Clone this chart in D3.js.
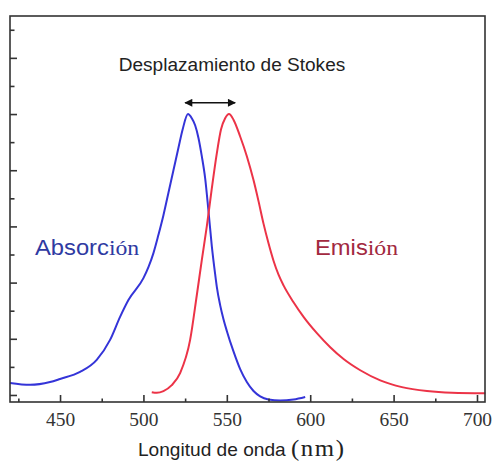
<!DOCTYPE html>
<html>
<head>
<meta charset="utf-8">
<script src="https://cdn.jsdelivr.net/npm/d3@7"></script>
<style>
  body { margin: 0; background: #fff; }
  svg { display: block; }
</style>
</head>
<body>
<div id="chart"></div>
<script>
// data (wavelength in nm, normalised intensity)
var absWl  = [420, 432, 444, 450, 462, 472, 480, 486, 491, 500, 503, 506, 509, 512, 515, 518, 521, 523.5, 526.7, 529, 531, 533, 535, 537, 539, 541, 543, 544, 546, 548, 550, 554, 558, 562, 566, 570, 575, 582, 590, 597];
var absVal = [0.043, 0.036, 0.046, 0.057, 0.082, 0.125, 0.196, 0.278, 0.338, 0.416, 0.455, 0.505, 0.57, 0.64, 0.72, 0.80, 0.88, 0.945, 1.0, 0.985, 0.96, 0.915, 0.85, 0.772, 0.655, 0.53, 0.43, 0.385, 0.32, 0.27, 0.228, 0.155, 0.092, 0.046, 0.014, -0.005, -0.016, -0.02, -0.016, -0.007];

var emWl  = [505, 508, 512, 517, 522, 528, 532, 535, 538, 541, 544, 546.5, 549, 551.3, 554, 558, 562, 566, 569, 572, 575, 578, 581, 584, 590, 596, 604, 612, 620, 630, 642, 655, 670, 685, 705];
var emVal = [0.010, 0.008, 0.014, 0.035, 0.078, 0.196, 0.355, 0.48, 0.60, 0.735, 0.86, 0.945, 0.985, 1.0, 0.98, 0.92, 0.85, 0.765, 0.69, 0.61, 0.54, 0.478, 0.428, 0.39, 0.33, 0.278, 0.22, 0.17, 0.128, 0.088, 0.052, 0.028, 0.014, 0.008, 0.006];

var xMajor = [450, 500, 550, 600, 650, 700];
var xMinor = [425, 475, 525, 575, 625, 675];
var yMajor = [0, 0.2, 0.4, 0.6, 0.8, 1.0, 1.2];
var yMinor = [0.1, 0.3, 0.5, 0.7, 0.9, 1.1, 1.3];

var stokesArrow = [525, 555];
var arrowLevel = 1.04;

var svgWidth = 494, svgHeight = 474;
var frame = { left: 10, top: 16, right: 485, bottom: 402 };
var stretch = 1.08;

var svg = d3.select("#chart").append("svg")
  .attr("width", svgWidth)
  .attr("height", svgHeight);

var x = d3.scaleLinear().domain([420, 704.8]).range([frame.left, frame.right]);
var y = d3.scaleLinear().domain([-0.025, 1.349]).range([frame.bottom, frame.top]);

var absData = absWl.map(function(w, i) { return [w, absVal[i]]; });
var emData = emWl.map(function(w, i) { return [w, emVal[i]]; });

var line = d3.line()
  .x(d => x(d[0]))
  .y(d => y(d[1]))
  .curve(d3.curveMonotoneX);

// curves
svg.append("path")
  .datum(absData)
  .attr("d", line)
  .attr("fill", "none")
  .attr("stroke", "#3434d8")
  .attr("stroke-width", 2);

svg.append("path")
  .datum(emData)
  .attr("d", line)
  .attr("fill", "none")
  .attr("stroke", "#ec3347")
  .attr("stroke-width", 2);

// axes (ticks pointing inward)
function styleAxis(g) {
  g.select(".domain").remove();
  g.selectAll("line").attr("stroke", "#333").attr("stroke-width", 1.6);
}

svg.append("g")
  .attr("transform", `translate(0, ${frame.bottom})`)
  .call(d3.axisBottom(x).tickValues(xMajor).tickSize(-7).tickPadding(11.5))
  .call(styleAxis)
  .call(g => g.selectAll("text")
    .attr("font-family", "Liberation Serif, Times New Roman, serif")
    .attr("font-size", 18)
    .attr("fill", "#333")
    .attr("transform", `scale(${stretch},1)`));

svg.append("g")
  .attr("transform", `translate(0, ${frame.bottom})`)
  .call(d3.axisBottom(x).tickValues(xMinor).tickSize(-3.5).tickFormat(""))
  .call(styleAxis);

svg.append("g")
  .attr("transform", `translate(${frame.left}, 0)`)
  .call(d3.axisLeft(y).tickValues(yMajor).tickSize(-7).tickFormat(""))
  .call(styleAxis);

svg.append("g")
  .attr("transform", `translate(${frame.left}, 0)`)
  .call(d3.axisLeft(y).tickValues(yMinor).tickSize(-4.5).tickFormat(""))
  .call(styleAxis);

// frame
svg.append("rect")
  .attr("x", frame.left)
  .attr("y", frame.top)
  .attr("width", frame.right - frame.left)
  .attr("height", frame.bottom - frame.top)
  .attr("fill", "none")
  .attr("stroke", "#333")
  .attr("stroke-width", 1.6);

// stokes shift arrow
svg.append("defs").append("marker")
  .attr("id", "head")
  .attr("viewBox", "0 0 10 10")
  .attr("refX", 9).attr("refY", 5)
  .attr("markerWidth", 10).attr("markerHeight", 8)
  .attr("markerUnits", "userSpaceOnUse")
  .attr("orient", "auto-start-reverse")
  .append("path")
  .attr("d", "M0,0 L10,5 L0,10 z")
  .attr("fill", "#111");

svg.append("line")
  .attr("x1", x(stokesArrow[0]))
  .attr("x2", x(stokesArrow[1]))
  .attr("y1", y(arrowLevel))
  .attr("y2", y(arrowLevel))
  .attr("stroke", "#111")
  .attr("stroke-width", 1.4)
  .attr("marker-start", "url(#head)")
  .attr("marker-end", "url(#head)");

// texts
var sans = "Liberation Sans, Arial, sans-serif";
var serif = "Liberation Serif, Times New Roman, serif";

svg.append("text")
  .attr("transform", "translate(232, 70.5) scale(1.03,1)")
  .attr("text-anchor", "middle")
  .attr("font-family", sans)
  .attr("font-size", 18.5)
  .attr("fill", "#222")
  .text("Desplazamiento de Stokes");

function mixedLabel(px, py, a, b, sizeA, sizeB, color, spacingB) {
  var t = svg.append("text")
    .attr("transform", `translate(${px}, ${py}) scale(${stretch},1)`)
    .attr("fill", color);
  t.append("tspan").attr("font-family", sans).attr("font-size", sizeA).text(a);
  t.append("tspan").attr("font-family", serif).attr("font-size", sizeB)
    .attr("letter-spacing", spacingB || 0).text(b);
  return t;
}

mixedLabel(35, 255, "Absorc", "ión", 22, 22, "#2f3aa2");
mixedLabel(315, 255, "Emis", "ión", 22, 22, "#a2293f");
mixedLabel(138, 456, "Longitud de onda ", "(nm)", 17.7, 23, "#222", 1.5);
</script>
</body>
</html>
